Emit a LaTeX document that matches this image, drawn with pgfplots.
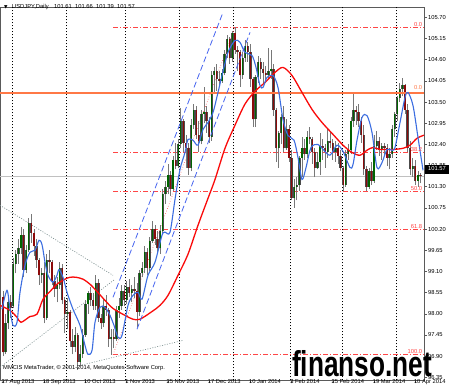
\documentclass[border=0pt]{standalone}
\usepackage{pgfplots}
\pgfplotsset{compat=1.18}
\usepackage{pgfplotstable}
\usepackage{graphicx}
\usepackage{fontspec}
\setmainfont{Liberation Sans}
\newfontfamily\dejavu{DejaVu Sans}
\definecolor{wick}{RGB}{120,120,120}
\definecolor{outl}{RGB}{75,75,75}
\definecolor{bull}{RGB}{0,100,0}
\definecolor{bear}{RGB}{140,10,10}
\definecolor{redma}{RGB}{250,10,10}
\definecolor{bluema}{RGB}{60,110,225}
\definecolor{fibred}{RGB}{255,70,70}
\definecolor{orangel}{RGB}{255,120,70}
\definecolor{chan}{RGB}{70,100,240}
\definecolor{gdot}{RGB}{120,140,140}
\definecolor{frame}{RGB}{90,90,90}
\definecolor{bidg}{RGB}{192,192,192}

\pgfplotstableread{
i o h l c
0 98.45 98.60 96.90 97.00
1 97.00 98.00 96.95 97.75
2 97.75 98.45 97.60 98.30
3 98.30 98.50 97.90 98.15
4 98.20 99.45 98.15 99.30
5 99.30 99.65 99.05 99.55
6 99.55 99.95 99.30 99.70
7 99.70 100.25 99.55 100.05
8 100.05 100.20 98.95 99.15
9 99.15 99.80 99.05 99.65
10 99.65 100.50 99.60 100.35
11 100.35 100.60 99.85 100.10
12 100.10 100.20 99.50 99.75
13 99.75 99.95 99.20 99.40
14 99.40 99.45 98.75 99.00
15 99.00 99.20 98.80 99.05
16 99.05 99.35 97.75 97.90
17 97.90 99.55 97.85 99.40
18 99.40 99.65 99.05 99.35
19 99.35 99.40 98.75 98.85
20 98.85 99.00 98.45 98.65
21 98.65 98.95 98.30 98.75
22 98.75 99.35 98.65 99.20
23 99.20 99.30 98.25 98.35
24 98.35 98.45 97.50 98.00
25 98.00 98.40 97.60 98.05
26 98.05 98.10 97.15 97.30
27 97.30 97.60 96.95 97.15
28 97.15 97.65 97.00 97.45
29 97.45 97.50 96.55 96.75
30 96.75 97.20 96.65 96.95
31 96.95 97.60 96.85 97.45
32 97.45 98.35 97.40 98.25
33 98.25 98.60 98.00 98.55
34 98.55 98.70 98.20 98.35
35 98.35 98.55 98.10 98.20
36 98.20 99.00 98.10 98.80
37 98.80 98.90 97.80 97.90
38 97.90 98.00 97.60 97.75
39 97.75 98.40 97.65 98.20
40 98.20 98.50 97.95 98.10
41 98.10 98.15 97.15 97.35
42 97.35 97.60 96.94 97.40
43 97.40 97.60 97.10 97.35
44 97.35 98.20 97.30 98.10
45 98.10 98.40 97.90 98.20
46 98.20 98.75 98.10 98.60
47 98.60 98.75 98.20 98.35
48 98.35 98.85 98.25 98.70
49 98.70 98.90 98.45 98.55
50 98.55 98.75 98.30 98.65
51 98.65 98.95 98.40 98.60
52 98.60 98.80 97.65 98.05
53 98.05 99.15 97.95 99.05
54 99.05 99.35 98.95 99.20
55 99.20 99.75 99.05 99.60
56 99.60 99.70 99.00 99.20
57 99.20 100.00 99.10 99.90
58 99.90 100.40 99.85 100.20
59 100.20 100.30 99.80 99.95
60 99.95 100.15 99.60 99.70
61 99.70 100.30 99.55 100.15
62 100.15 101.25 100.05 101.10
63 101.10 101.45 100.85 101.30
64 101.30 101.90 101.10 101.60
65 101.60 101.70 101.05 101.25
66 101.25 102.10 101.20 102.00
67 102.00 102.45 101.75 101.85
68 101.85 102.55 101.80 102.40
69 102.40 103.35 102.30 103.00
70 103.00 103.05 102.20 102.45
71 102.45 102.65 101.80 102.30
72 102.30 102.45 101.60 101.80
73 101.80 103.05 101.70 102.90
74 102.90 103.45 102.80 103.30
75 103.30 103.40 102.55 102.65
76 102.65 103.00 102.20 102.50
77 102.50 103.30 102.40 103.20
78 103.20 103.90 102.95 103.25
79 103.25 103.40 102.70 103.00
80 103.00 103.10 102.45 102.60
81 102.60 104.30 102.50 104.20
82 104.20 104.40 103.75 104.30
83 104.30 104.50 103.80 104.10
84 104.10 104.30 103.90 104.05
85 104.05 104.35 104.00 104.25
86 104.25 104.85 104.20 104.75
87 104.75 105.25 104.65 105.15
88 105.15 105.20 104.50 104.65
89 104.65 105.35 104.55 105.30
90 105.30 105.44 104.75 104.85
91 104.85 104.95 104.30 104.80
92 104.80 104.85 103.90 104.20
93 104.20 104.80 104.10 104.65
94 104.65 105.10 104.55 104.95
95 104.95 105.05 104.55 104.80
96 104.80 105.00 103.90 104.10
97 104.10 104.15 102.85 103.05
98 103.05 104.20 102.85 104.15
99 104.15 104.70 104.00 104.55
100 104.55 104.65 104.10 104.35
101 104.35 104.55 104.00 104.25
102 104.25 104.45 104.00 104.20
103 104.20 104.90 104.10 104.30
104 104.30 104.85 104.10 104.35
105 104.35 104.50 103.15 103.30
106 103.30 103.35 101.95 102.30
107 102.30 102.75 101.80 102.70
108 102.70 103.20 102.40 103.10
109 103.10 103.40 102.20 102.30
110 102.30 103.05 102.25 102.80
111 102.80 102.90 101.95 102.05
112 102.05 102.25 100.95 101.00
113 101.00 101.50 100.75 101.30
114 101.30 101.55 100.95 101.35
115 101.35 102.10 101.20 102.05
116 102.05 102.60 101.55 102.30
117 102.30 102.55 102.00 102.15
118 102.15 102.75 102.05 102.60
119 102.60 102.85 102.40 102.55
120 102.55 102.60 101.90 102.20
121 102.20 102.30 101.55 101.80
122 101.80 102.20 101.75 101.95
123 101.95 102.70 101.60 102.35
124 102.35 102.55 102.00 102.30
125 102.30 102.40 101.80 102.20
126 102.20 102.80 102.05 102.50
127 102.50 102.75 102.30 102.45
128 102.45 102.55 102.00 102.20
129 102.20 102.50 101.95 102.30
130 102.30 102.45 101.90 102.10
131 102.10 102.25 101.70 101.80
132 101.80 101.85 101.20 101.35
133 101.35 102.25 101.30 102.15
134 102.15 102.40 102.00 102.25
135 102.25 103.10 102.15 103.00
136 103.00 103.76 102.85 103.30
137 103.30 103.40 102.90 103.25
138 103.25 103.45 102.85 103.00
139 103.00 103.10 102.45 102.65
140 102.65 102.90 101.60 101.75
141 101.75 101.85 101.20 101.30
142 101.30 101.80 101.25 101.70
143 101.70 101.95 101.35 101.45
144 101.45 102.65 101.40 102.35
145 102.35 102.75 102.25 102.50
146 102.50 102.60 102.10 102.25
147 102.25 102.45 102.00 102.35
148 102.35 102.45 102.10 102.30
149 102.30 102.40 101.85 102.05
150 102.05 102.30 101.75 102.15
151 102.15 102.90 102.05 102.80
152 102.80 103.25 102.60 103.20
153 103.20 103.65 103.00 103.60
154 103.60 104.00 103.50 103.85
155 103.85 104.12 103.65 103.95
156 103.95 103.98 103.20 103.30
157 103.30 103.45 102.20 102.30
158 102.30 102.50 101.60 101.75
159 101.75 102.05 101.55 101.85
160 101.85 102.00 101.35 101.45
161 101.45 101.70 101.30 101.60
162 101.61 101.66 101.39 101.57
}\candles

\pgfplotstableread{
i p
-1.16 98.22
2.72 98.09
5.43 97.91
6.98 97.78
10.48 97.93
13.19 97.99
15.52 98.38
18.24 98.58
20.95 98.77
24.06 98.90
26.00 98.95
28.33 98.95
31.04 98.90
33.76 98.77
36.48 98.58
39.58 98.35
42.69 98.14
47.34 97.96
50.45 97.86
53.16 97.86
57.82 98.06
60.92 98.22
64.03 98.48
67.91 99.00
71.79 99.55
75.67 100.30
79.55 101.00
82.27 101.49
86.15 102.30
90.03 102.90
93.91 103.45
97.79 103.78
101.67 104.01
105.55 104.27
108.65 104.40
112.15 104.19
116.03 103.75
119.91 103.31
123.79 102.97
128.06 102.66
131.94 102.38
135.43 102.19
138.53 102.12
141.25 102.25
143.58 102.32
146.29 102.27
151.34 102.27
155.22 102.30
157.94 102.38
160.65 102.56
163.37 102.64
}\redmatab

\pgfplotstableread{
i p
-0.39 98.12
1.55 98.61
2.72 98.12
3.88 97.70
5.43 97.78
6.60 98.56
8.54 99.26
10.48 99.60
12.42 99.65
13.97 99.91
15.13 99.80
16.30 99.34
17.46 99.00
19.40 98.82
20.95 99.00
21.73 99.15
23.28 98.95
24.84 98.56
27.16 98.12
29.88 97.70
31.82 97.18
32.98 96.95
34.54 97.05
35.70 97.78
37.64 98.17
39.58 98.17
41.52 97.96
43.07 97.70
44.63 97.39
46.18 97.44
48.51 98.22
50.45 98.48
52.39 98.56
53.94 98.38
56.27 99.00
58.98 99.34
61.70 100.04
62.86 100.12
64.80 100.12
66.74 100.97
68.68 101.75
70.62 102.19
71.79 102.53
73.73 102.51
75.67 102.38
77.61 102.79
79.55 102.97
81.49 103.23
83.43 103.75
84.98 104.19
87.31 104.79
90.03 105.10
91.97 105.05
93.91 104.79
96.62 104.71
98.18 104.40
99.73 103.93
100.89 103.88
102.44 104.14
104.77 104.19
106.71 103.88
108.65 103.05
110.59 102.63
112.92 102.51
114.47 102.06
116.03 101.49
117.58 101.80
119.52 102.32
122.24 102.40
124.18 102.27
126.89 102.12
129.61 102.38
131.94 102.22
134.65 101.80
135.82 101.88
137.37 102.51
139.31 103.10
141.25 103.15
143.19 102.71
145.13 101.80
147.07 101.93
149.01 102.27
150.95 102.25
152.11 102.32
154.06 102.97
156.00 103.62
157.16 103.75
159.10 103.41
161.04 102.58
162.98 101.73
}\bluematab

\pgfplotsset{
  candle/.style 2 args={draw=none, mark=none, forget plot,
    error bars/.cd, y dir=plus, y explicit, error mark=none,
    error bar style={draw=#1, line width=#2, solid}},
}

\begin{document}
\begin{tikzpicture}[x=1bp,y=1bp]
\useasboundingbox (0,0) rectangle (450,385);
\fill[white] (0,0) rectangle (450,385);
\begin{axis}[
  at={(0,12)}, anchor=south west, scale only axis,
  width=424bp, height=373bp,
  xmin=-1.164, xmax=163.37, ymin=96.2714, ymax=105.9597,
  axis line style={draw=frame, line width=0.8bp},
  xtick={0,16,...,160},
  xticklabels={27 Aug 2013,18 Sep 2013,10 Oct 2013,1 Nov 2013,25 Nov 2013,17 Dec 2013,10 Jan 2014,3 Feb 2014,25 Feb 2014,19 Mar 2014,10 Apr 2014},
  xtick pos=bottom, ytick pos=right,
  tick align=outside, major tick length=3bp,
  tick style={draw=frame, line width=0.6bp},
  ytick={96.35,96.90,97.45,98.00,98.55,99.10,99.65,100.20,100.75,101.30,101.85,102.40,102.95,103.50,104.05,104.60,105.15,105.70},
  scaled y ticks=false,
  yticklabel style={font=\fontsize{5.8}{6}\selectfont, inner sep=1bp,
    /pgf/number format/fixed, /pgf/number format/fixed zerofill,
    /pgf/number format/precision=2, /pgf/number format/assume math mode=true},
  xticklabel style={font=\fontsize{5.8}{6}\selectfont, anchor=north west, inner sep=0.5bp, xshift=-2bp, yshift=4.5bp},
  extra x ticks={3.5,24.5,47.5,68.5,89.5,111.5,131.5,152.5},
  extra x tick labels={},
  extra x tick style={grid=major, tick style={draw=none}},
  major grid style={black, line width=0.5bp, dash pattern=on 1.5bp off 1.5bp},
]
% bid line
\addplot[bidg, line width=0.6bp, forget plot] coordinates {(-1.164,101.57) (163.37,101.57)};
% fibonacci levels
\addplot[fibred, line width=0.6bp, dash pattern=on 5bp off 2bp on 1bp off 2bp, forget plot] coordinates {(42.69,105.44) (163.37,105.44)};
\addplot[fibred, line width=0.6bp, dash pattern=on 5bp off 2bp on 1bp off 2bp, forget plot] coordinates {(42.69,102.193) (163.37,102.193)};
\addplot[fibred, line width=0.6bp, dash pattern=on 5bp off 2bp on 1bp off 2bp, forget plot] coordinates {(42.69,101.19) (163.37,101.19)};
\addplot[fibred, line width=0.6bp, dash pattern=on 5bp off 2bp on 1bp off 2bp, forget plot] coordinates {(42.69,100.187) (163.37,100.187)};
\addplot[fibred, line width=0.6bp, dash pattern=on 5bp off 2bp on 1bp off 2bp, forget plot] coordinates {(42.69,96.94) (163.37,96.94)};
\addplot[fibred, line width=0.6bp, dotted, forget plot] coordinates {(42.69,96.94) (90,105.44)};
% gray dotted triangle lines
\addplot[gdot, line width=0.6bp, dash pattern=on 1bp off 1.5bp, forget plot] coordinates {(-1.16,100.82) (42.69,99.00)};
\addplot[gdot, line width=0.6bp, dash pattern=on 1bp off 1.5bp, forget plot] coordinates {(-1.16,96.61) (43.46,98.90)};
\addplot[gdot, line width=0.6bp, dash pattern=on 1bp off 1.5bp, forget plot] coordinates {(28.72,96.64) (69.85,97.31)};
% candle wicks
\addplot[candle={wick}{0.8bp}]
  table[x=i, y=l, y error expr=\thisrow{h}-\thisrow{l}] {\candles};
% bull bodies
\addplot[restrict expr to domain={\thisrow{c}-\thisrow{o}}{0:100}, candle={outl}{2.3bp}]
  table[x=i, y=o, y error expr=\thisrow{c}-\thisrow{o}] {\candles};
\addplot[restrict expr to domain={\thisrow{c}-\thisrow{o}}{0:100}, candle={bull}{1.2bp}]
  table[x=i, y=o, y error expr=\thisrow{c}-\thisrow{o}] {\candles};
% bear bodies
\addplot[restrict expr to domain={\thisrow{o}-\thisrow{c}}{0.0001:100}, candle={outl}{2.3bp}]
  table[x=i, y=c, y error expr=\thisrow{o}-\thisrow{c}] {\candles};
\addplot[restrict expr to domain={\thisrow{o}-\thisrow{c}}{0.0001:100}, candle={bear}{1.2bp}]
  table[x=i, y=c, y error expr=\thisrow{o}-\thisrow{c}] {\candles};
% orange level
\addplot[orangel, line width=1.6bp, forget plot] coordinates {(-1.164,103.73) (163.37,103.73)};
% moving averages
\addplot[redma, line width=1.3bp, smooth, tension=0.5, forget plot] table[x=i, y=p] {\redmatab};
\addplot[bluema, line width=1.1bp, smooth, tension=0.5, forget plot] table[x=i, y=p] {\bluematab};
% channel lines
\addplot[chan, line width=0.8bp, dash pattern=on 6bp off 3bp, forget plot] coordinates {(42.69,98.43) (85.37,105.83)};
\addplot[chan, line width=0.8bp, dash pattern=on 6bp off 3bp, forget plot] coordinates {(52.0,97.60) (95.85,105.31)};
% fib labels
\node[anchor=south east, inner sep=0.5bp, text=fibred, font=\fontsize{5.8}{6}\selectfont] at (axis cs:162.9,105.44) {0.0};
\node[anchor=south east, inner sep=0.5bp, text=fibred, font=\fontsize{5.8}{6}\selectfont] at (axis cs:162.9,102.193) {38.2};
\node[anchor=south east, inner sep=0.5bp, text=fibred, font=\fontsize{5.8}{6}\selectfont] at (axis cs:162.9,101.19) {50.0};
\node[anchor=south east, inner sep=0.5bp, text=fibred, font=\fontsize{5.8}{6}\selectfont] at (axis cs:162.9,100.187) {61.8};
\node[anchor=south east, inner sep=0.5bp, text=fibred, font=\fontsize{5.8}{6}\selectfont] at (axis cs:162.9,96.94) {100.0};
\node[anchor=south east, inner sep=0.5bp, text=orangel, font=\fontsize{5.8}{6}\selectfont] at (axis cs:162.9,103.80) {0.0};
\end{axis}
% title
\node[anchor=west, inner sep=0, font=\dejavu\fontsize{4.5}{5}\selectfont] at (4,378) {▼};
\node[anchor=west, inner sep=0, font=\fontsize{5.8}{6}\selectfont] at (12,378) {USDJPY,Daily};
\node[anchor=west, inner sep=0, font=\fontsize{5.8}{6}\selectfont] at (54,378) {101.61};
\node[anchor=west, inner sep=0, font=\fontsize{5.8}{6}\selectfont] at (75,378) {101.66};
\node[anchor=west, inner sep=0, font=\fontsize{5.8}{6}\selectfont] at (96,378) {101.39};
\node[anchor=west, inner sep=0, font=\fontsize{5.8}{6}\selectfont] at (117,378) {101.57};
% copyright
\node[anchor=west, inner sep=0, font=\fontsize{5.8}{6}\selectfont] at (3,17) {MMCIS MetaTrader, © 2001-2014, MetaQuotes Software Corp.};
% bid label
\fill[black] (425,211.5) rectangle (449,220.5);
\node[text=white, inner sep=0, font=\fontsize{5.8}{6}\selectfont] at (437,216) {101.57};
% watermark
\node[anchor=base west, inner sep=0] at (292,9) {\resizebox{140bp}{26bp}{\fontspec{Liberation Sans}\bfseries finanso.net}};
\end{tikzpicture}
\end{document}
